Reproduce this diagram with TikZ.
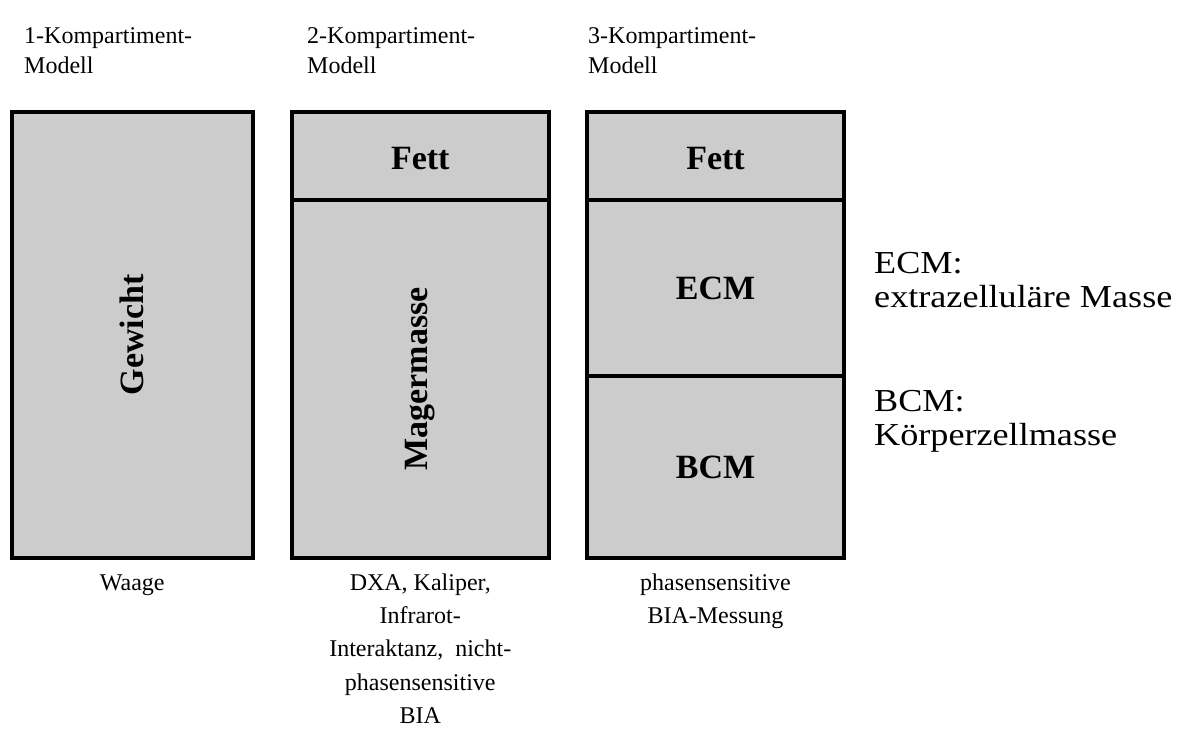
\documentclass[tikz,border=0pt]{standalone}
\usepackage{fontspec}
\setmainfont{Liberation Serif}
\newfontfamily\sidefont[FakeStretch=1.13]{Liberation Serif}
\definecolor{boxgray}{HTML}{CCCCCC}
\begin{document}
\begin{tikzpicture}[x=1pt,y=-1pt,
  cell/.style={draw, line width=4pt, fill=boxgray, inner sep=0pt, minimum width=#1},
  lab/.style={font=\fontsize{34}{38}\selectfont\bfseries, inner sep=0pt},
  hdr/.style={font=\fontsize{24}{30}\selectfont, inner sep=0pt, align=left, anchor=base west},
  txt/.style={font=\fontsize{24}{33.3}\selectfont, inner sep=0pt, align=center, anchor=base},
  side/.style={font=\sidefont\fontsize{32}{33.5}\selectfont, inner sep=0pt, align=left, anchor=base west}]
\useasboundingbox (0,0) rectangle (1181,738);
% headers (anchor = baseline of last line)
\node[hdr] (h1) at (24,74) {1-Kompartiment-\\Modell};
\node[hdr] (h2) at (307,74) {2-Kompartiment-\\Modell};
\node[hdr] (h3) at (588,74) {3-Kompartiment-\\Modell};
% box 1
\node[cell=240.5pt, minimum height=446pt] (gew) at (132.25,335) {};
\node[lab, rotate=90] (gewt) at (gew.center) {Gewicht};
% box 2
\node[cell=256.5pt, minimum height=88pt] (fett2) at (420.25,156) {};
\node[cell=256.5pt, minimum height=358pt] (mager) at (420.25,379) {};
\node[lab] (fett2t) at ([yshift=-3pt]fett2.center) {Fett};
\node[lab, rotate=90] (magert) at (mager.center) {Magermasse};
% box 3
\node[cell=257pt, minimum height=88pt] (fett3) at (715.5,156) {};
\node[cell=257pt, minimum height=176pt] (ecm) at (715.5,288) {};
\node[cell=257pt, minimum height=182pt] (bcm) at (715.5,467) {};
\node[lab] (fett3t) at ([yshift=-3pt]fett3.center) {Fett};
\node[lab] (ecmt) at (ecm.center) {ECM};
\node[lab] (bcmt) at (bcm.center) {BCM};
% methods (anchor = baseline of last line)
\node[txt] (m1) at (132.25,590) {Waage};
\node[txt] (m2) at (420.25,723.3) {DXA, Kaliper,\\Infrarot-\\Interaktanz,~ nicht-\\phasensensitive\\BIA};
\node[txt] (m3) at (715.5,623.3) {phasensensitive\\BIA-Messung};
% legend
\node[side] (l1) at (874,307) {ECM:\\extrazelluläre Masse};
\node[side] (l2) at (874,445) {BCM:\\Körperzellmasse};
\end{tikzpicture}
\end{document}
